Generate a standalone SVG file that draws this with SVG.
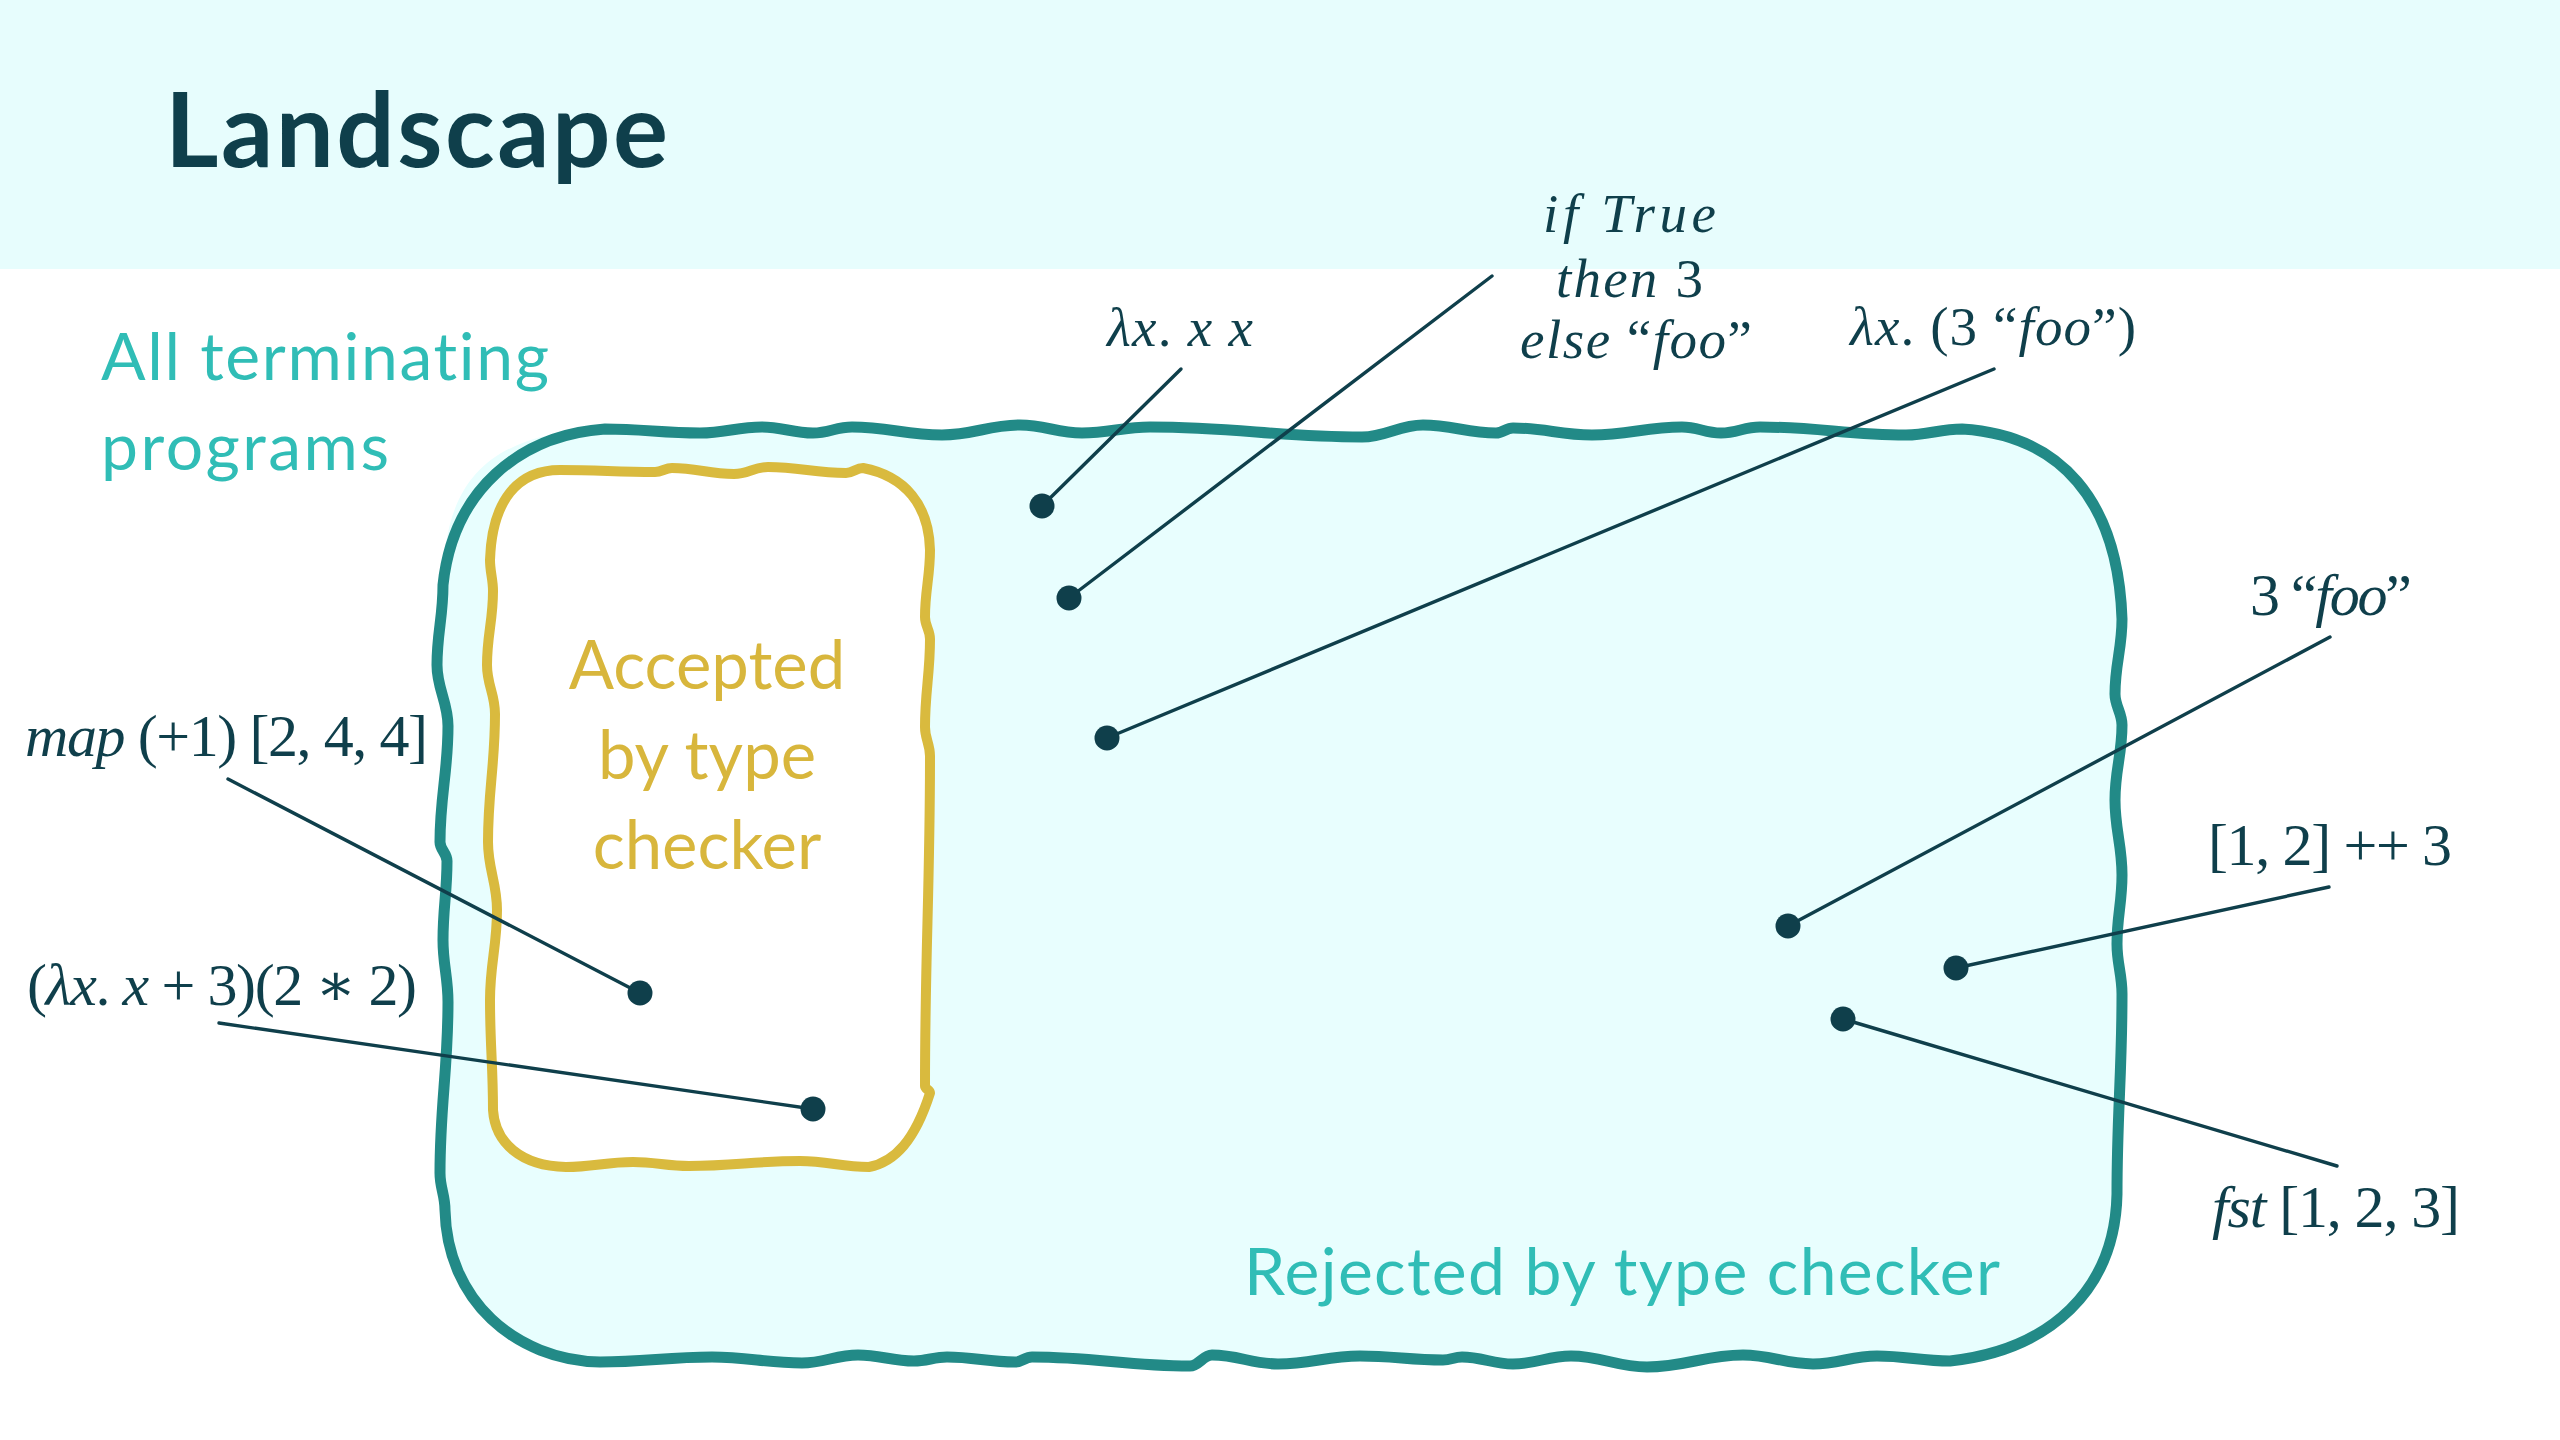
<svg xmlns="http://www.w3.org/2000/svg" width="2560" height="1440" viewBox="0 0 2560 1440">
  <style>
    .sans { font-family: Lato, "Open Sans", "Liberation Sans", sans-serif; font-variant-ligatures: none; }
    .math { font-family: "Liberation Serif", "DejaVu Serif", serif; fill: #0F3F4B; }
    .it { font-style: italic; }
    .big { font-size: 60px; }
    .small { font-size: 55px; }
    .teal-text { fill: #30BDB6; font-size: 66px; }
    .gold-text { fill: #D8B63C; font-size: 67px; }
    .lead { stroke: #0F3F4B; stroke-width: 3.4; stroke-linecap: round; fill: none; }
    .dot { fill: #0F3F4B; }
  </style>

  <!-- page background and title band -->
  <rect x="0" y="0" width="2560" height="1440" fill="#FFFFFF"/>
  <rect x="0" y="0" width="2560" height="269" fill="#E7FDFD"/>
  <text id="title" class="sans" x="165" y="167" font-size="103" font-weight="bold" fill="#0F3F4B" textLength="503" lengthAdjust="spacing">Landscape</text>

  <!-- outer region: all terminating programs -->
  <g id="region-terminating">
    <path fill="#E8FEFE" d="M 443 585 C 443 480 490 432 605 429 C 520 435 453 490 443 585 Z"/>
    <path fill="#E8FEFE" stroke="#228A87" stroke-width="11" stroke-linejoin="round"
      d="M 605 429
         C 643 429 662 433 700 433 C 725 433 737 427 762 427 C 782 427 793 433 813 433
         C 829 433 836 427 852 427 C 888 427 906 435 942 435 C 973 435 989 425 1020 425
         C 1045 425 1057 433 1082 433 C 1109 433 1123 427 1150 427 C 1235 427 1277 437 1362 437
         C 1386 437 1399 425 1423 425 C 1452 425 1467 433 1496 433 C 1503 433 1506 428 1513 428
         C 1545 428 1560 435 1592 435 C 1628 435 1646 427 1682 427 C 1698 427 1705 433 1721 433
         C 1737 433 1744 427 1760 427 C 1818 427 1848 435 1906 435 C 1928 435 1940 429 1962 429
         C 2060 435 2118 500 2122 619
         C 2122 649 2115 664 2115 694 C 2115 706 2122 713 2122 725 C 2122 755 2115 770 2115 800
         C 2115 830 2122 845 2122 875 C 2122 903 2117 916 2117 944 C 2117 964 2122 974 2122 994
         C 2122 1074 2117 1114 2117 1194
         C 2115 1290 2050 1350 1950 1361
         C 1921 1361 1906 1356 1877 1356 C 1851 1356 1839 1364 1813 1364 C 1785 1364 1771 1355 1743 1355
         C 1705 1355 1685 1367 1647 1367 C 1617 1367 1601 1356 1571 1356 C 1548 1356 1536 1364 1513 1364
         C 1493 1364 1482 1357 1462 1357 C 1454 1357 1451 1360 1443 1360 C 1410 1360 1393 1356 1360 1356
         C 1327 1356 1311 1364 1278 1364 C 1252 1364 1238 1355 1212 1355 C 1203 1355 1199 1366 1190 1366
         C 1127 1366 1095 1357 1032 1357 C 1025 1357 1022 1362 1015 1362 C 988 1362 974 1357 947 1357
         C 934 1357 927 1361 914 1361 C 892 1361 880 1355 858 1355 C 836 1355 824 1363 802 1363
         C 766 1363 748 1357 712 1357 C 667 1357 645 1362 600 1362
         C 515 1360 447 1300 445 1210
         C 445 1195 440 1188 440 1173 C 440 1105 448 1070 448 1002 C 448 977 443 965 443 940
         C 443 908 447 893 447 861 C 447 853 440 850 440 842 C 440 796 448 772 448 726
         C 448 702 437 689 437 665 C 437 633 443 617 443 585
         C 453 490 520 435 605 429 Z"/>
    <text class="sans teal-text" x="101" y="380" textLength="448" lengthAdjust="spacing">All terminating</text>
    <text class="sans teal-text" x="101" y="470" textLength="288" lengthAdjust="spacing">programs</text>
    <text class="sans teal-text" x="1244" y="1295" textLength="756" lengthAdjust="spacing">Rejected by type checker</text>
  </g>

  <!-- inner region: accepted by the type checker -->
  <g id="region-accepted">
    <path fill="#FFFFFF" stroke="#D9BA3E" stroke-width="10" stroke-linejoin="round"
      d="M 560 470
         C 598 470 617 472 655 472 C 662 472 665 468 672 468 C 697 468 709 474 734 474
         C 748 474 754 467 768 467 C 799 467 815 473 846 473 C 853 473 856 468 863 468
         C 905 476 929 505 930 550
         C 930 577 925 590 925 617 C 925 626 930 630 930 639 C 930 674 925 692 925 727
         C 925 739 930 744 930 756 C 930 888 925 954 925 1086 C 925 1089 930 1090 930 1093
         C 915 1140 895 1162 869 1167
         C 841 1167 828 1161 800 1161 C 756 1161 733 1166 689 1166 C 667 1166 655 1162 633 1162
         C 606 1162 593 1167 566 1167
         C 520 1166 495 1142 493 1110
         C 493 1066 490 1044 490 1000 C 490 964 497 946 497 910 C 497 883 488 869 488 842
         C 488 791 495 765 495 714 C 495 694 487 685 487 665 C 487 635 493 621 493 591
         C 493 579 490 572 490 560
         C 492 500 518 470 560 470 Z"/>
    <text class="sans gold-text" x="707" y="689" text-anchor="middle">Accepted</text>
    <text class="sans gold-text" x="707" y="779" text-anchor="middle">by type</text>
    <text class="sans gold-text" x="707" y="869" text-anchor="middle">checker</text>
  </g>

  <!-- leader lines from each example to its point -->
  <g id="connectors">
    <line class="lead" x1="1181" y1="369" x2="1042" y2="506"/>
    <line class="lead" x1="1492" y1="276" x2="1069" y2="598"/>
    <line class="lead" x1="1994" y1="369" x2="1107" y2="738"/>
    <line class="lead" x1="228" y1="779" x2="640" y2="993"/>
    <line class="lead" x1="219" y1="1023" x2="813" y2="1109"/>
    <line class="lead" x1="2330" y1="637" x2="1788" y2="926"/>
    <line class="lead" x1="2329" y1="887" x2="1956" y2="968"/>
    <line class="lead" x1="2337" y1="1166" x2="1843" y2="1019"/>
  </g>

  <!-- example programs -->
  <g id="ex-self-apply">
    <text class="math small" x="1107" y="346" textLength="146" lengthAdjust="spacing"><tspan class="it">λx</tspan>. <tspan class="it">x x</tspan></text>
    <circle class="dot" cx="1042" cy="506" r="12.5"/>
  </g>
  <g id="ex-if-then-else">
    <text class="math small it" x="1543" y="232" textLength="173" lengthAdjust="spacing">if True</text>
    <text class="math small" x="1556" y="297" textLength="147" lengthAdjust="spacing"><tspan class="it">then</tspan> 3</text>
    <text class="math small" x="1520" y="358" textLength="232" lengthAdjust="spacing"><tspan class="it">else</tspan> “<tspan class="it">foo</tspan>”</text>
    <circle class="dot" cx="1069" cy="598" r="12.5"/>
  </g>
  <g id="ex-lambda-apply-string">
    <text class="math small" x="1850" y="345" textLength="286" lengthAdjust="spacing"><tspan class="it">λx</tspan>. (3 “<tspan class="it">foo</tspan>”)</text>
    <circle class="dot" cx="1107" cy="738" r="12.5"/>
  </g>
  <g id="ex-map">
    <text class="math big" x="25" y="756" textLength="403" lengthAdjust="spacing"><tspan class="it">map</tspan> (+1) [2, 4, 4]</text>
    <circle class="dot" cx="640" cy="993" r="12.5"/>
  </g>
  <g id="ex-lambda-plus">
    <text class="math big" x="27" y="1005" textLength="390" lengthAdjust="spacing">(<tspan class="it">λx</tspan>. <tspan class="it">x</tspan> + 3)(2 ∗ 2)</text>
    <circle class="dot" cx="813" cy="1109" r="12.5"/>
  </g>
  <g id="ex-apply-number">
    <text class="math big" x="2250" y="615" textLength="162" lengthAdjust="spacing">3 “<tspan class="it">foo</tspan>”</text>
    <circle class="dot" cx="1788" cy="926" r="12.5"/>
  </g>
  <g id="ex-append">
    <text class="math big" x="2208" y="865" textLength="244" lengthAdjust="spacing">[1, 2] ++ 3</text>
    <circle class="dot" cx="1956" cy="968" r="12.5"/>
  </g>
  <g id="ex-fst">
    <text class="math big" x="2212" y="1227" textLength="248" lengthAdjust="spacing"><tspan class="it">fst</tspan> [1, 2, 3]</text>
    <circle class="dot" cx="1843" cy="1019" r="12.5"/>
  </g>
</svg>
